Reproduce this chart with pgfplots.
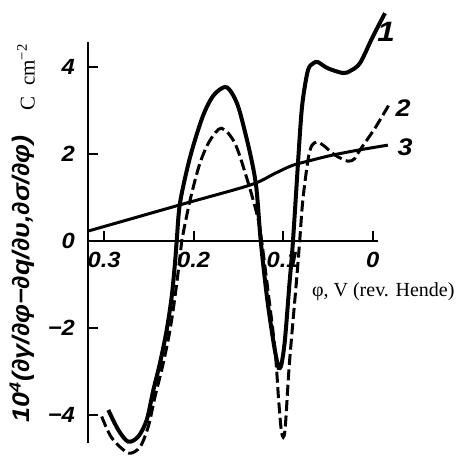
\documentclass[border=0pt]{standalone}
\usepackage{pgfplots}
\pgfplotsset{compat=1.18}
\usepackage{fontspec}
\setmainfont{Liberation Serif}
\newfontfamily\lab{Liberation Sans}[FakeStretch=1.12]
\newfontfamily\labt{Liberation Sans}[FakeStretch=1.08]
\begin{document}
\begin{tikzpicture}[x=1pt,y=1pt]
\begin{axis}[
  at={(44pt,7pt)}, anchor=south west,
  scale only axis, width=145pt, height=200.5pt,
  xmin=-0.006, xmax=0.318, ymin=-4.65, ymax=4.585,
  x dir=reverse,
  axis x line*=middle, axis y line*=left,
  axis line style={line width=1.2pt},
  xtick={0.3,0.2,0.1,0}, xticklabels={0.3,0.2,0.1,0},
  ytick={-4,-2,0,2,4}, yticklabels={−4,−2,0,2,4},
  xtick align=inside, ytick align=inside, major tick length=5pt,
  tick style={line width=1pt, black},
  ticklabel style={font=\labt\bfseries\itshape\fontsize{11}{12}\selectfont},
  yticklabel style={xshift=-3pt},
  xticklabel style={yshift=-2pt},
  clip=false,
]
% curve 3
\addplot[black, line width=1.5pt, smooth, tension=0.5] coordinates {
(0.318,0.23) (0.216,0.83) (0.137,1.29) (0.110,1.55) (0.090,1.74) (0.065,1.88) (0.045,1.98) (0.015,2.10) (-0.017,2.21)
};
% curve 2
\addplot[black, line width=1.5pt, dash pattern=on 5.5pt off 2.2pt, smooth, tension=0.5] coordinates {
(0.3027,-4.04) (0.2915,-4.53) (0.273,-4.88) (0.2599,-4.74) (0.2506,-4.27) (0.2431,-3.58) (0.2339,-2.81) (0.2264,-2.05) (0.2208,-1.28) (0.2152,-0.36) (0.2133,0)
(0.204,0.94) (0.193,1.79) (0.182,2.31) (0.169,2.6) (0.154,2.26) (0.140,1.41) (0.1284,0.55) (0.124,0)
(0.117,-1.13) (0.109,-2.51) (0.105,-3.66) (0.1016,-4.42) (0.098,-4.37) (0.093,-2.82) (0.085,-0.9) (0.0815,0)
(0.078,0.94) (0.0722,1.87) (0.068,2.2) (0.0622,2.28) (0.0553,2.21) (0.042,1.98) (0.0276,1.84) (0.020,1.9) (0.0141,2.1) (-0.0026,2.6) (-0.0194,3.18)
};
% curve 1
\addplot[black, line width=2pt, smooth, tension=0.5] coordinates {
(0.2953,-3.89) (0.2841,-4.35) (0.273,-4.62) (0.2618,-4.50) (0.2524,-4.12) (0.2450,-3.43) (0.2376,-2.81) (0.2301,-2.05) (0.2245,-1.28) (0.2208,-0.5) (0.2189,0)
(0.2152,0.88) (0.204,1.93) (0.19,2.86) (0.178,3.35) (0.165,3.55) (0.157,3.4) (0.149,3.02) (0.137,2.03) (0.13,1.24) (0.125,0)
(0.118,-1.3) (0.111,-2.3) (0.107,-2.75) (0.105,-2.92) (0.102,-2.85) (0.098,-2.28) (0.093,-1.0) (0.089,0)
(0.0812,2.49) (0.078,3.25) (0.0722,3.94) (0.066,4.1) (0.061,4.12) (0.05,3.98) (0.0331,3.87) (0.025,3.92) (0.0141,4.10) (0.0,4.70) (-0.0138,5.25)
};
\end{axis}
\node[rotate=90, font=\lab\bfseries\itshape\fontsize{12}{14}\selectfont] at (11pt,89pt) {10\textsuperscript{4}(∂γ/∂φ−∂q/∂υ,∂σ/∂φ)};
\node[rotate=90, font=\fontsize{10.5}{11}\selectfont] at (13pt,190pt) {C\hspace{0.5em}cm\textsuperscript{−2}};
\node[anchor=west, font=\fontsize{10}{12}\selectfont] at (152.5pt,82.5pt) {φ, V (rev. Hende)};
\node[font=\lab\bfseries\itshape\fontsize{14}{15}\selectfont] at (193pt,212.5pt) {1};
\node[font=\lab\bfseries\itshape\fontsize{12}{14}\selectfont] at (201.5pt,174.5pt) {2};
\node[font=\lab\bfseries\itshape\fontsize{12}{14}\selectfont] at (202.5pt,155pt) {3};
\pgfresetboundingbox
\path[use as bounding box] (0,0) rectangle (229pt,228.5pt);
\end{tikzpicture}
\end{document}
